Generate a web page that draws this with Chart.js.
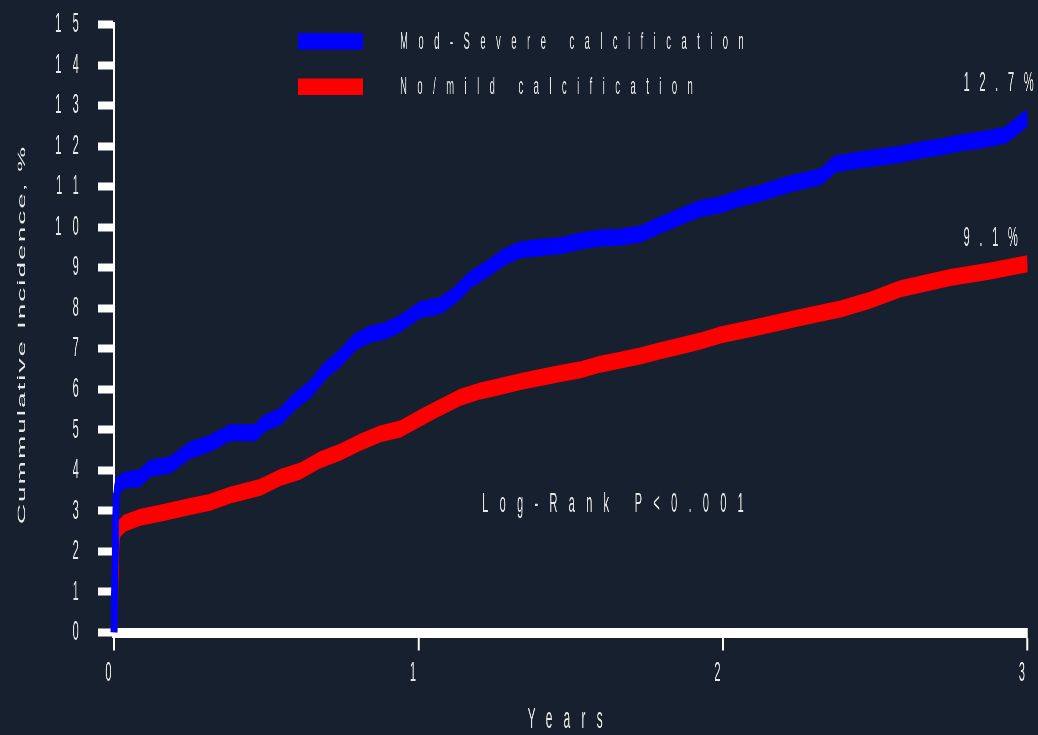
<!DOCTYPE html>
<html>
<head>
<meta charset="utf-8">
<title>Cumulative incidence by calcification grade</title>
<script src="https://cdn.jsdelivr.net/npm/chart.js@4.4.1/dist/chart.umd.min.js"></script>
<style>
  html, body { margin: 0; padding: 0; background: #17202e; overflow: hidden; }
  /* the chart is laid out on a wide canvas and squeezed horizontally,
     which gives the tall, narrow lettering and thin vertical strokes */
  #wrap { width: 2595px; height: 735px; transform: scaleX(0.4); transform-origin: 0 0; }
</style>
</head>
<body>
<div id="wrap"><canvas id="km"></canvas></div>
<script>
// ---- data -------------------------------------------------------------
const seriesNames = ['Mod-Severe calcification', 'No/mild calcification'];

const yearsModSevere = [0, 0.007, 0.013, 0.036, 0.085, 0.118, 0.184, 0.250, 0.315, 0.381,
  0.463, 0.496, 0.545, 0.595, 0.644, 0.693, 0.743, 0.792, 0.841, 0.890,
  0.940, 1.005, 1.071, 1.121, 1.170, 1.236, 1.285, 1.334, 1.400, 1.466,
  1.532, 1.597, 1.663, 1.728, 1.794, 1.860, 1.926, 1.991, 2.057, 2.123,
  2.221, 2.320, 2.369, 2.451, 2.517, 2.583, 2.648, 2.714, 2.780, 2.846,
  2.928, 2.961, 3.0];
const incModSevere = [0, 3.3, 3.64, 3.76, 3.81, 4.05, 4.13, 4.5, 4.66, 4.93,
  4.93, 5.17, 5.32, 5.71, 6.0, 6.45, 6.77, 7.17, 7.36, 7.44,
  7.62, 7.96, 8.06, 8.33, 8.7, 9.02, 9.28, 9.44, 9.5, 9.54,
  9.66, 9.73, 9.75, 9.83, 10.05, 10.26, 10.46, 10.55, 10.72, 10.84,
  11.07, 11.24, 11.56, 11.66, 11.73, 11.8, 11.9, 11.98, 12.08, 12.15,
  12.27, 12.47, 12.7];

const yearsNoMild = [0, 0.007, 0.013, 0.036, 0.085, 0.151, 0.250, 0.315, 0.381, 0.480,
  0.545, 0.611, 0.677, 0.743, 0.808, 0.874, 0.940, 1.005, 1.055, 1.137,
  1.203, 1.268, 1.334, 1.400, 1.466, 1.532, 1.597, 1.663, 1.728, 1.794,
  1.860, 1.926, 1.991, 2.123, 2.254, 2.386, 2.484, 2.583, 2.747, 2.878,
  3.0];
const incNoMild = [0, 2.3, 2.53, 2.70, 2.84, 2.94, 3.11, 3.21, 3.39, 3.58,
  3.82, 3.98, 4.26, 4.45, 4.69, 4.90, 5.02, 5.29, 5.49, 5.80,
  5.96, 6.07, 6.19, 6.29, 6.39, 6.48, 6.62, 6.72, 6.82, 6.95,
  7.07, 7.19, 7.34, 7.55, 7.77, 7.98, 8.2, 8.48, 8.76, 8.92,
  9.1];

const xTickValues = [0, 1, 2, 3];
const yTickValues = [0, 1, 2, 3, 4, 5, 6, 7, 8, 9, 10, 11, 12, 13, 14, 15];
const endLabels = ['12.7%', '9.1%'];
const testLabel = 'Log-Rank P<0.001';
const xTitle = 'Years';
const yTitle = 'Cummulative Incidence, %';

// ---- styling ----------------------------------------------------------
const INK = '#e8e8e8';
const AXIS = '#ffffff';
const FONT = '"Liberation Sans", Arial, sans-serif';
const seriesColors = ['#0000ff', '#ff0000'];

const toPoints = (xs, ys) => xs.map((x, i) => ({ x, y: ys[i] }));

// text, key and side title drawn on top of the chart
const annotations = {
  id: 'annotations',
  beforeDraw(chart) {
    chart.ctx.letterSpacing = '28px';
  },
  afterDraw(chart) {
    const { ctx, chartArea: ca, scales: { x, y } } = chart;
    ctx.save();
    ctx.fillStyle = INK;
    ctx.textBaseline = 'middle';
    ctx.textAlign = 'left';

    // values at three years
    ctx.font = `28px ${FONT}`;
    ctx.letterSpacing = '24px';
    ctx.fillText(endLabels[0], x.getPixelForValue(2.79), y.getPixelForValue(13.56));
    ctx.fillText(endLabels[1], x.getPixelForValue(2.79), y.getPixelForValue(9.73));

    // test statistic
    ctx.letterSpacing = '28px';
    ctx.fillText(testLabel, x.getPixelForValue(1.209), y.getPixelForValue(3.17));

    // key
    ctx.font = `24px ${FONT}`;
    ctx.letterSpacing = '26px';
    chart.data.datasets.forEach((ds, i) => {
      const cy = ca.top + 16.5 + i * 45.5;
      ctx.fillStyle = ds.borderColor;
      ctx.fillRect(ca.left + 460, cy - 8, 162.5, 16.5);
      ctx.fillStyle = INK;
      ctx.fillText(ds.label, ca.left + 715, cy + 1);
    });

    // vertical axis title
    ctx.font = `28px ${FONT}`;
    ctx.letterSpacing = '2px';
    ctx.translate(63, (ca.top + ca.bottom) / 2 + 6);
    ctx.rotate(-Math.PI / 2);
    ctx.textAlign = 'center';
    ctx.textBaseline = 'alphabetic';
    ctx.fillText(yTitle, 0, 0);
    ctx.restore();
  }
};

const curve = (label, data, color) => ({
  label,
  data,
  borderColor: color,
  backgroundColor: color,
  borderWidth: 17,
  tension: 0,
  pointRadius: 0,
  fill: false,
  clip: { left: 10, right: 0, top: 10, bottom: 0 }
});

new Chart(document.getElementById('km'), {
  type: 'line',
  data: {
    datasets: [
      curve(seriesNames[0], toPoints(yearsModSevere, incModSevere), seriesColors[0]),
      curve(seriesNames[1], toPoints(yearsNoMild, incNoMild), seriesColors[1])
    ]
  },
  options: {
    responsive: true,
    maintainAspectRatio: false,
    devicePixelRatio: 1,
    animation: false,
    events: [],
    layout: { padding: { top: 24.5, right: 26.25, bottom: 0, left: 0 } },
    plugins: { legend: { display: false }, tooltip: { enabled: false } },
    scales: {
      x: {
        type: 'linear',
        min: 0,
        max: 3,
        afterBuildTicks: s => { s.ticks = xTickValues.map(v => ({ value: v })); },
        afterFit: s => { s.height = 102.5; },
        grid: { drawOnChartArea: false, drawTicks: true, tickLength: 18, tickWidth: 5, tickColor: AXIS },
        border: { display: true, color: AXIS, width: 10 },
        ticks: {
          color: INK, font: { family: FONT, size: 28 }, padding: 6,
          maxRotation: 0, autoSkip: false, callback: v => String(v)
        },
        title: {
          display: true, text: xTitle, color: INK,
          font: { family: FONT, size: 30, lineHeight: 1 }, padding: 0
        }
      },
      y: {
        type: 'linear',
        min: 0,
        max: 15,
        afterBuildTicks: s => { s.ticks = yTickValues.map(v => ({ value: v })); },
        afterFit: s => { s.width = 285; s.paddingTop = 0; s.paddingBottom = 0; },
        grid: { drawOnChartArea: false, drawTicks: true, tickLength: 40, tickWidth: 8, tickColor: AXIS },
        border: { display: true, color: AXIS, width: 6 },
        ticks: { color: INK, font: { family: FONT, size: 28 }, padding: 20, callback: v => String(v) }
      }
    }
  },
  plugins: [annotations]
});
</script>
</body>
</html>
